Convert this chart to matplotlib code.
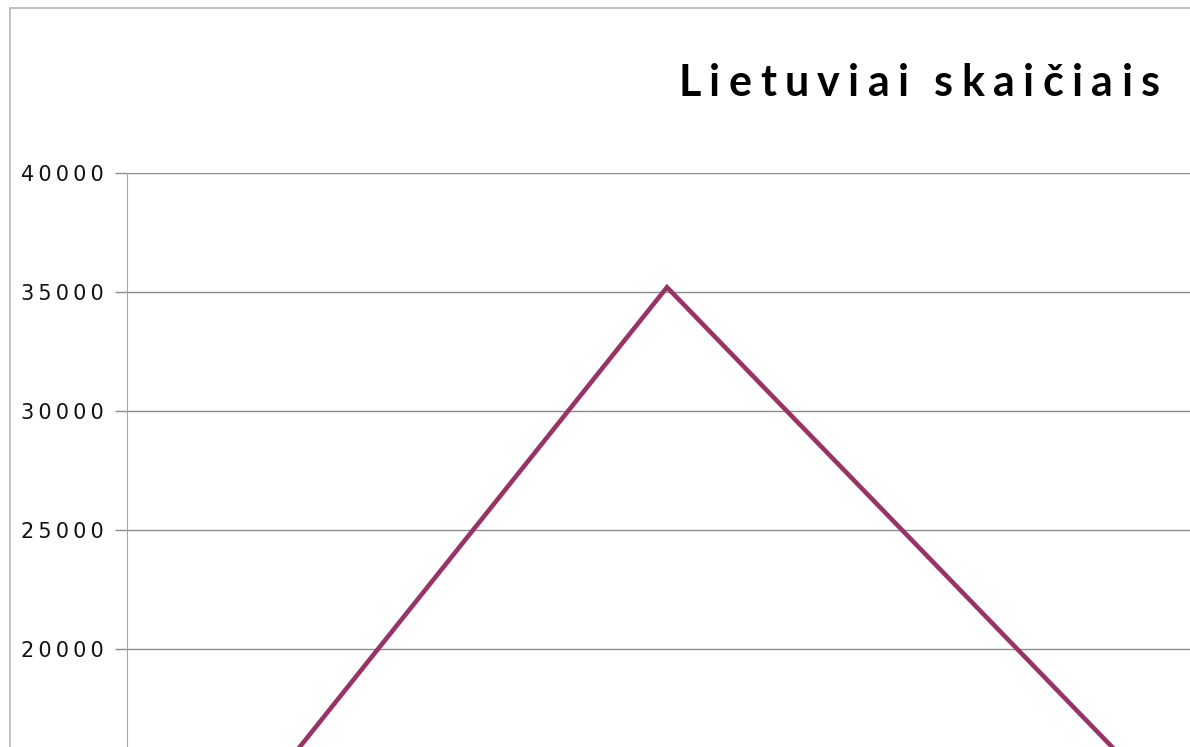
import matplotlib
matplotlib.use("Agg")
import matplotlib.pyplot as plt
from matplotlib.ticker import FuncFormatter
from matplotlib.patches import Rectangle

# data (only the upper part of the chart is visible)
categories = [0, 1, 2]
values = [8900, 35200, 13500]
y_ticks = [20000, 25000, 30000, 35000, 40000]
title = "Lietuviai skaičiais"

W, H = 1190, 747
fig = plt.figure(figsize=(W / 100, H / 100), dpi=100)

# outer chart border (continues past the cropped edges)
fig.patches.append(Rectangle((10 / W, -1), 2, 1 - 8 / H + 1, transform=fig.transFigure,
                             fill=False, edgecolor="#b4b4b4", linewidth=1.2))

# plot area: 0..40000 spans 952 px, top at y=173 px
left_px, top_px, span_px = 127, 173, 952
ax = fig.add_axes([left_px / W, (H - top_px - span_px) / H, 1300 / W, span_px / H])
ax.set_ylim(0, 40000)
ax.set_xlim(-0.08, -0.08 + 1300 / 500)

ax.plot(categories, values, color="#993366", linewidth=3.3, solid_joinstyle="miter")

ax.set_yticks(y_ticks)
ax.yaxis.set_major_formatter(FuncFormatter(lambda v, p: "\u2009".join(str(int(v)))))
ax.set_xticks([])
ax.grid(axis="y", color="#8c8c8c", linewidth=1)
ax.set_axisbelow(True)
for s in ["top", "right", "bottom"]:
    ax.spines[s].set_visible(False)
ax.spines["left"].set_color("#a6a6a6")
ax.tick_params(axis="y", length=8.5, width=1, color="#8c8c8c", pad=8.5,
               labelsize=15, labelcolor="#111111")

# letter-spaced title, drawn char by char
renderer = fig.canvas.get_renderer()
title_left, title_right, word_gap = 678, 1160, 25
pieces = []
for ch in title:
    if ch == " ":
        pieces.append((None, 0))
        continue
    t = fig.text(0, (H - 96) / H, ch, ha="left", va="baseline", fontsize=31,
                 fontweight="bold", family="Lato")
    pieces.append((t, t.get_window_extent(renderer).width))
letters = [w for t, w in pieces if t is not None]
n_gaps = len(letters) - 1 - title.count(" ")
track = (title_right - title_left - sum(letters) - word_gap * title.count(" ")) / n_gaps
x = title_left
prev_letter = False
for t, w in pieces:
    if t is None:
        x += word_gap - track
        continue
    t.set_x(x / W)
    x += w + track

fig.savefig("out.png", dpi=100)
